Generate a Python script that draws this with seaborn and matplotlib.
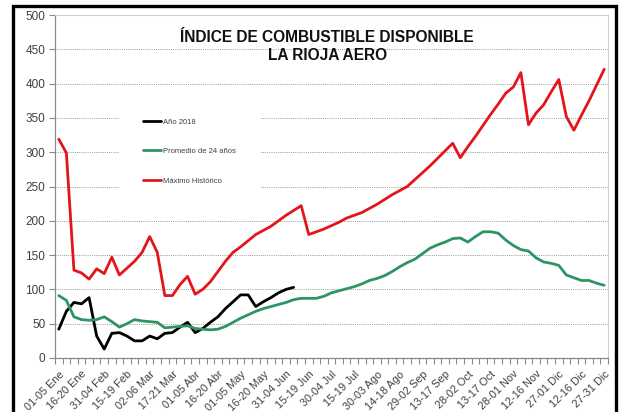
import matplotlib
matplotlib.use("Agg")
import matplotlib.pyplot as plt
import seaborn as sns
import pandas as pd
import numpy as np
from matplotlib.lines import Line2D

# ---------------- data ----------------
pentads = ["01-05 Ene", "06-10 Ene", "11-15 Ene", "16-20 Ene", "21-25 Ene", "26-30 Ene",
           "31-04 Feb", "05-09 Feb", "10-14 Feb", "15-19 Feb", "20-24 Feb", "25-01 Mar",
           "02-06 Mar", "07-11 Mar", "12-16 Mar", "17-21 Mar", "22-26 Mar", "27-31 Mar",
           "01-05 Abr", "06-10 Abr", "11-15 Abr", "16-20 Abr", "21-25 Abr", "26-30 Abr",
           "01-05 May", "06-10 May", "11-15 May", "16-20 May", "21-25 May", "26-30 May",
           "31-04 Jun", "05-09 Jun", "10-14 Jun", "15-19 Jun", "20-24 Jun", "25-29 Jun",
           "30-04 Jul", "05-09 Jul", "10-14 Jul", "15-19 Jul", "20-24 Jul", "25-29 Jul",
           "30-03 Ago", "04-08 Ago", "09-13 Ago", "14-18 Ago", "19-23 Ago", "24-28 Ago",
           "29-02 Sep", "03-07 Sep", "08-12 Sep", "13-17 Sep", "18-22 Sep", "23-27 Sep",
           "28-02 Oct", "03-07 Oct", "08-12 Oct", "13-17 Oct", "18-22 Oct", "23-27 Oct",
           "28-01 Nov", "02-06 Nov", "07-11 Nov", "12-16 Nov", "17-21 Nov", "22-26 Nov",
           "27-01 Dic", "02-06 Dic", "07-11 Dic", "12-16 Dic", "17-21 Dic", "22-26 Dic",
           "27-31 Dic"]

anio_2018 = [42, 68, 81, 79, 88, 32, 13, 36, 37, 32, 25, 25, 32, 28, 36, 37, 45, 52,
             37, 43, 52, 60, 72, 82, 92, 92, 75, 82, 88, 95, 100, 103]

promedio_24 = [91, 84, 60, 56, 55, 56, 60, 53, 45, 50, 56, 54, 53, 52, 44, 45, 46, 47,
               43, 42, 41, 42, 46, 52, 58, 63, 68, 72, 75, 78, 81, 85, 87, 87, 87, 90,
               95, 98, 101, 104, 108, 113, 116, 120, 126, 133, 139, 144, 152, 160, 165,
               169, 174, 175, 169, 177, 184, 184, 182, 172, 164, 158, 156, 146, 140, 138,
               135, 121, 117, 113, 113, 109, 106]

maximo_hist = [319, 299, 128, 124, 115, 130, 123, 147, 121, 131, 141, 154, 177, 154, 91,
               91, 107, 119, 93, 100, 111, 126, 141, 154, 162, 171, 180, 186, 192, 200,
               208, 215, 222, 180, 184, 188, 193, 198, 204, 208, 212, 218, 224, 231, 238,
               244, 250, 260, 270, 280, 291, 302, 313, 292, 308, 323, 339, 355, 370, 386,
               395, 416, 340, 357, 369, 388, 406, 352, 332, 354, 375, 398, 421]

series_names = ["Año 2018", "Promedio de 24 años", "Máximo Histórico"]
series_colors = ["#000000", "#2E9464", "#E3151B"]

# ---------------- figure ----------------
sns.set_theme(style="white")
plt.rcParams['font.family'] = ['Liberation Sans', 'DejaVu Sans']

W, H = 625, 412
fig = plt.figure(figsize=(W / 100, H / 100), dpi=100)
ax = fig.add_axes([55 / W, (H - 358) / H, (608 - 55) / W, (358 - 15) / H])

df = pd.concat([
    pd.DataFrame({"x": np.arange(len(anio_2018)), "v": anio_2018, "s": series_names[0]}),
    pd.DataFrame({"x": np.arange(len(promedio_24)), "v": promedio_24, "s": series_names[1]}),
    pd.DataFrame({"x": np.arange(len(maximo_hist)), "v": maximo_hist, "s": series_names[2]}),
])

sns.lineplot(data=df, x="x", y="v", hue="s", hue_order=series_names,
             palette=dict(zip(series_names, series_colors)), linewidth=2.0,
             ax=ax, legend=False, zorder=3)

ax.set_xlim(-0.5, len(pentads) - 0.5)
ax.set_ylim(0, 500)
ax.set_yticks(np.arange(0, 501, 50))
ax.set_xticks(np.arange(0, len(pentads), 3))
ax.set_xticklabels([pentads[i] for i in range(0, len(pentads), 3)],
                   rotation=45, ha="right", rotation_mode="anchor")
ax.set_xticks(np.arange(-0.5, len(pentads), 1), minor=True)
ax.set_xlabel("")
ax.set_ylabel("")

ax.grid(axis="y", color="#9a9a9a", linestyle=(0, (1, 1.2)), linewidth=0.7, zorder=0)
ax.grid(axis="x", visible=False)

for side in ["top", "right"]:
    ax.spines[side].set_color("#d0d0d0")
    ax.spines[side].set_linewidth(0.8)
for side in ["left", "bottom"]:
    ax.spines[side].set_color("#8a8a8a")
    ax.spines[side].set_linewidth(0.9)

ax.tick_params(axis="y", which="major", left=True, length=4, width=0.8,
               color="#8a8a8a", labelsize=8.5, labelcolor="#404040", pad=3)
ax.tick_params(axis="x", which="major", bottom=False, labelsize=7.9,
               labelcolor="#404040", pad=2)
ax.tick_params(axis="x", which="minor", bottom=True, length=4, width=0.8,
               color="#8a8a8a")

# title
ax.text(0.492, 0.955, "ÍNDICE DE COMBUSTIBLE DISPONIBLE\nLA RIOJA AERO",
        transform=ax.transAxes, ha="center", va="top", fontsize=11.2,
        fontweight="bold", color="#111111", linespacing=1.2)

# legend
handles = [Line2D([0], [0], color=c, lw=2.0) for c in series_colors]
leg = ax.legend(handles, series_names, loc="upper left",
                bbox_to_anchor=(115 / W, (H - 90) / H), bbox_transform=fig.transFigure,
                fontsize=5.5, frameon=True, facecolor="white", edgecolor="none",
                framealpha=1.0, borderpad=3.2, labelspacing=2.9, handlelength=2.3,
                handletextpad=0.3, fancybox=False)
for t in leg.get_texts():
    t.set_color("#404040")

# outer black border (left, top, right)
bx = [12.5 / W, 12.5 / W, 615.5 / W, 615.5 / W]
by = [-0.01, 1 - 6 / H, 1 - 6 / H, -0.01]
fig.add_artist(Line2D(bx, by, color="black", lw=2.4, transform=fig.transFigure,
                      solid_joinstyle="miter"))

fig.savefig("out.png", dpi=100)
